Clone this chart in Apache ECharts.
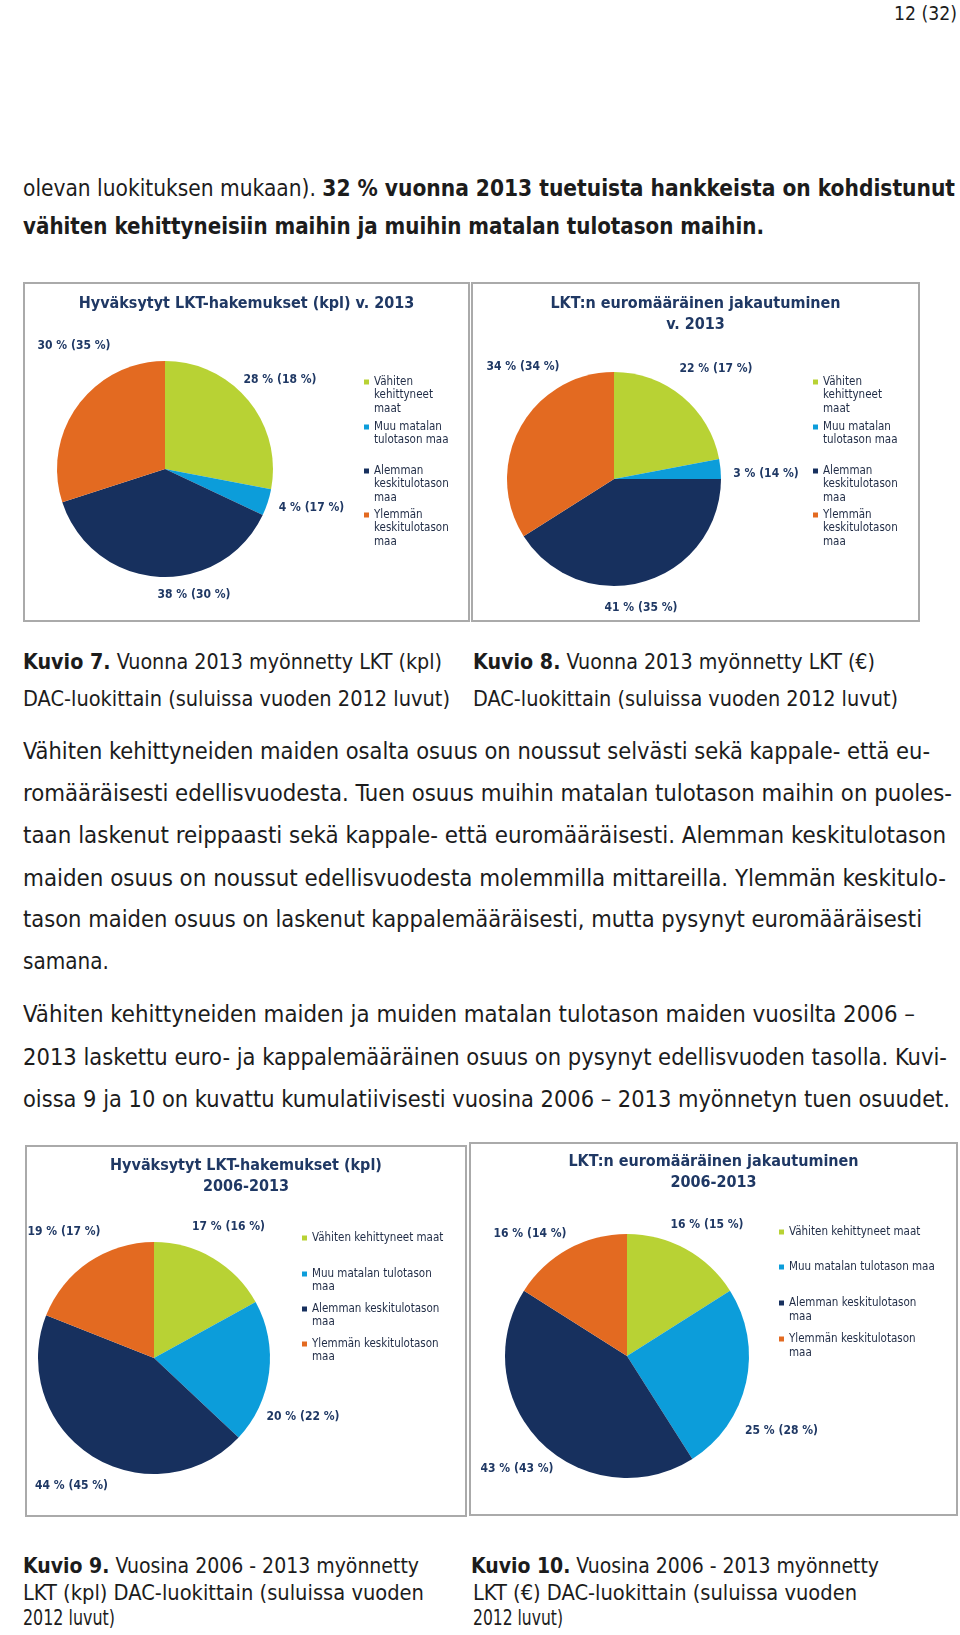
<!DOCTYPE html>
<html><head><meta charset="utf-8">
<script src="https://cdn.jsdelivr.net/npm/echarts@6/dist/echarts.min.js"></script>
<style>
html,body{margin:0;padding:0;background:#fff;}
#page{position:relative;width:960px;height:1635px;overflow:hidden;background:#fff;font-family:"DejaVu Sans Condensed","DejaVu Sans",sans-serif;font-stretch:condensed;color:#1c1c1c;}
.ln{position:absolute;white-space:nowrap;transform-origin:0 50%;}
.chart{position:absolute;}
.frame{position:absolute;box-sizing:border-box;border:2px solid #aaaaaa;pointer-events:none;}
</style></head><body><div id="page"></div>
<script>
// ---------- data ----------
const categories = ['Vähiten kehittyneet maat', 'Muu matalan tulotason maa', 'Alemman keskitulotason maa', 'Ylemmän keskitulotason maa'];
const kpl2013 = [28, 4, 38, 30];
const kpl2012 = [18, 17, 30, 35];
const eur2013 = [22, 3, 41, 34];
const eur2012 = [17, 14, 35, 34];
const kpl2006_2013 = [17, 20, 44, 19];
const kpl2006_2012 = [16, 22, 45, 17];
const eur2006_2013 = [16, 25, 43, 16];
const eur2006_2012 = [15, 28, 43, 14];

// ---------- styles / layout ----------
const FF = '"DejaVu Sans Condensed", "DejaVu Sans", sans-serif';
const colors = ['#b8d234', '#0c9dda', '#17305e', '#e36a21'];
const navy = '#1f3864';

const textLines = [
  ['12 (32)', 894, 13, 63, 20],
  ['olevan luokituksen mukaan). <b>32 % vuonna 2013 tuetuista hankkeista on kohdistunut</b>', 23, 188, 932, 23],
  ['<b>vähiten kehittyneisiin maihin ja muihin matalan tulotason maihin.</b>', 23, 226, 741, 23],
  ['<b>Kuvio 7.</b> Vuonna 2013 myönnetty LKT (kpl)', 23, 662, 419, 21],
  ['DAC-luokittain (suluissa vuoden 2012 luvut)', 23, 699, 427, 21],
  ['<b>Kuvio 8.</b> Vuonna 2013 myönnetty LKT (€)', 473, 662, 402, 21],
  ['DAC-luokittain (suluissa vuoden 2012 luvut)', 473, 699, 425, 21],
  ['Vähiten kehittyneiden maiden osalta osuus on noussut selvästi sekä kappale- että eu-', 23, 750.5, 907, 23],
  ['romääräisesti edellisvuodesta. Tuen osuus muihin matalan tulotason maihin on puoles-', 23, 793, 929, 23],
  ['taan laskenut reippaasti sekä kappale- että euromääräisesti. Alemman keskitulotason', 23, 835, 923, 23],
  ['maiden osuus on noussut edellisvuodesta molemmilla mittareilla. Ylemmän keskitulo-', 23, 877.5, 923, 23],
  ['tason maiden osuus on laskenut kappalemääräisesti, mutta pysynyt euromääräisesti', 23, 919, 899, 23],
  ['samana.', 23, 961, 86, 23],
  ['Vähiten kehittyneiden maiden ja muiden matalan tulotason maiden vuosilta 2006 –', 23, 1014, 892, 23],
  ['2013 laskettu euro- ja kappalemääräinen osuus on pysynyt edellisvuoden tasolla. Kuvi-', 23, 1057, 924, 23],
  ['oissa 9 ja 10 on kuvattu kumulatiivisesti vuosina 2006 – 2013 myönnetyn tuen osuudet.', 23, 1098.6, 927, 23],
  ['<b>Kuvio 9.</b> Vuosina 2006 - 2013 myönnetty', 23, 1566.6, 396, 21],
  ['LKT (kpl) DAC-luokittain (suluissa vuoden', 23, 1593.7, 401, 21],
  ['2012 luvut)', 23, 1618.7, 92, 21],
  ['<b>Kuvio 10.</b> Vuosina 2006 - 2013 myönnetty', 471, 1566.6, 408, 21],
  ['LKT (€) DAC-luokittain (suluissa vuoden', 473, 1593.7, 384, 21],
  ['2012 luvut)', 473, 1618.7, 90, 21]
];

const legendTall = ['Vähiten\nkehittyneet\nmaat', 'Muu matalan\ntulotason maa', 'Alemman\nkeskitulotason\nmaa', 'Ylemmän\nkeskitulotason\nmaa'];
const charts = [
  { box: [23, 282, 447, 340], title: 'Hyväksytyt LKT-hakemukset (kpl) v. 2013', titleX: 245, titleY: 304,
    center: [165, 469], r: 108, values: kpl2013, prev: kpl2012,
    labelPos: [[280, 380], [311.5, 508], [194, 595], [74, 346]],
    iconX: 364, legendY: [382, 427, 471, 515], lh: 13.5, legendText: legendTall },
  { box: [471, 282, 449, 340], title: 'LKT:n euromääräinen jakautuminen\nv. 2013', titleX: 695, titleY: 304,
    center: [614, 479], r: 107, values: eur2013, prev: eur2012,
    labelPos: [[716, 369], [766, 474], [641, 608], [523, 367]],
    iconX: 813, legendY: [382, 427, 471, 515], lh: 13.5, legendText: legendTall },
  { box: [25, 1145, 442, 372], title: 'Hyväksytyt LKT-hakemukset (kpl)\n2006-2013', titleX: 235, titleY: 1166,
    center: [154, 1358], r: 116, values: kpl2006_2013, prev: kpl2006_2012,
    labelPos: [[228.5, 1227], [303, 1417], [71.5, 1486], [64, 1232]],
    iconX: 302, legendY: [1238, 1274, 1309, 1344], lh: 13.5,
    legendText: ['Vähiten kehittyneet maat', 'Muu matalan tulotason\nmaa', 'Alemman keskitulotason\nmaa', 'Ylemmän keskitulotason\nmaa'] },
  { box: [469, 1142, 489, 374], title: 'LKT:n euromääräinen jakautuminen\n2006-2013', titleX: 714, titleY: 1162,
    center: [627, 1356], r: 122, values: eur2006_2013, prev: eur2006_2012,
    labelPos: [[707, 1225], [781.5, 1431], [517, 1469], [530, 1234]],
    iconX: 779, legendY: [1232, 1267, 1303, 1339], lh: 14,
    legendText: ['Vähiten kehittyneet maat', 'Muu matalan tulotason maa', 'Alemman keskitulotason\nmaa', 'Ylemmän keskitulotason\nmaa'] }
];

// ---------- body text ----------
const page = document.getElementById('page');
const lineEls = [];
textLines.forEach(([html, x, cy, w, fs]) => {
  const d = document.createElement('div');
  d.className = 'ln';
  const lh = Math.round(fs * 1.3);
  d.style.cssText = `left:${x}px;top:${cy - lh / 2}px;font-size:${fs}px;line-height:${lh}px;`;
  d.innerHTML = html;
  page.appendChild(d);
  lineEls.push([d, w]);
});
function fitLines() {
  lineEls.forEach(([d, w]) => {
    d.style.transform = '';
    const actual = d.getBoundingClientRect().width;
    if (actual > 0) d.style.transform = `scaleX(${w / actual})`;
  });
}

// ---------- charts ----------
function buildChart(cfg) {
  const [bl, bt, bw, bh] = cfg.box;
  const div = document.createElement('div');
  div.className = 'chart';
  div.style.cssText = `left:${bl}px;top:${bt}px;width:${bw}px;height:${bh}px;`;
  page.appendChild(div);
  const frame = document.createElement('div');
  frame.className = 'frame';
  frame.style.cssText = `left:${bl}px;top:${bt}px;width:${bw}px;height:${bh}px;`;
  page.appendChild(frame);

  const shift = cfg.titleX - (bl + bw / 2);
  const titleLh = 21;
  // one legend per item; leading blank lines keep the marker level with the first text line
  const legends = cfg.legendText.map((txt, i) => {
    const n = txt.split('\n').length;
    const shown = '\n'.repeat(n - 1) + txt;
    return {
      data: [categories[i]], orient: 'vertical', padding: 0,
      left: cfg.iconX - bl, top: cfg.legendY[i] - bt - (2 * n - 1) * cfg.lh / 2,
      itemWidth: 5, itemHeight: 5, icon: 'rect', selectedMode: false,
      formatter: () => shown,
      textStyle: { fontSize: 11.5, lineHeight: cfg.lh, color: '#1f2b45', fontFamily: FF }
    };
  });

  const chart = echarts.init(div, null, { renderer: 'canvas' });
  chart.setOption({
    animation: false,
    title: {
      text: cfg.title, left: 'center', top: cfg.titleY - bt - titleLh / 2,
      padding: shift < 0 ? [0, -2 * shift, 0, 0] : [0, 0, 0, 2 * shift],
      textStyle: { fontSize: 16, fontWeight: 'bold', color: navy, fontFamily: FF, lineHeight: titleLh }
    },
    legend: legends,
    series: [{
      type: 'pie', center: [cfg.center[0] - bl, cfg.center[1] - bt], radius: cfg.r,
      startAngle: 90, clockwise: true, avoidLabelOverlap: false,
      data: categories.map((c, i) => ({ name: c, value: cfg.values[i], itemStyle: { color: colors[i] } })),
      label: {
        show: true, position: 'outside',
        formatter: p => `${p.value} % (${cfg.prev[p.dataIndex]} %)`,
        fontSize: 12, fontWeight: 'bold', color: navy, fontFamily: FF
      },
      labelLine: { show: false },
      labelLayout: p => ({
        x: cfg.labelPos[p.dataIndex][0] - bl, y: cfg.labelPos[p.dataIndex][1] - bt,
        align: 'center', verticalAlign: 'middle'
      }),
      emphasis: { disabled: true }
    }]
  });
}

fitLines();
charts.forEach(buildChart);
if (document.fonts && document.fonts.ready) document.fonts.ready.then(fitLines);
</script></body></html>
